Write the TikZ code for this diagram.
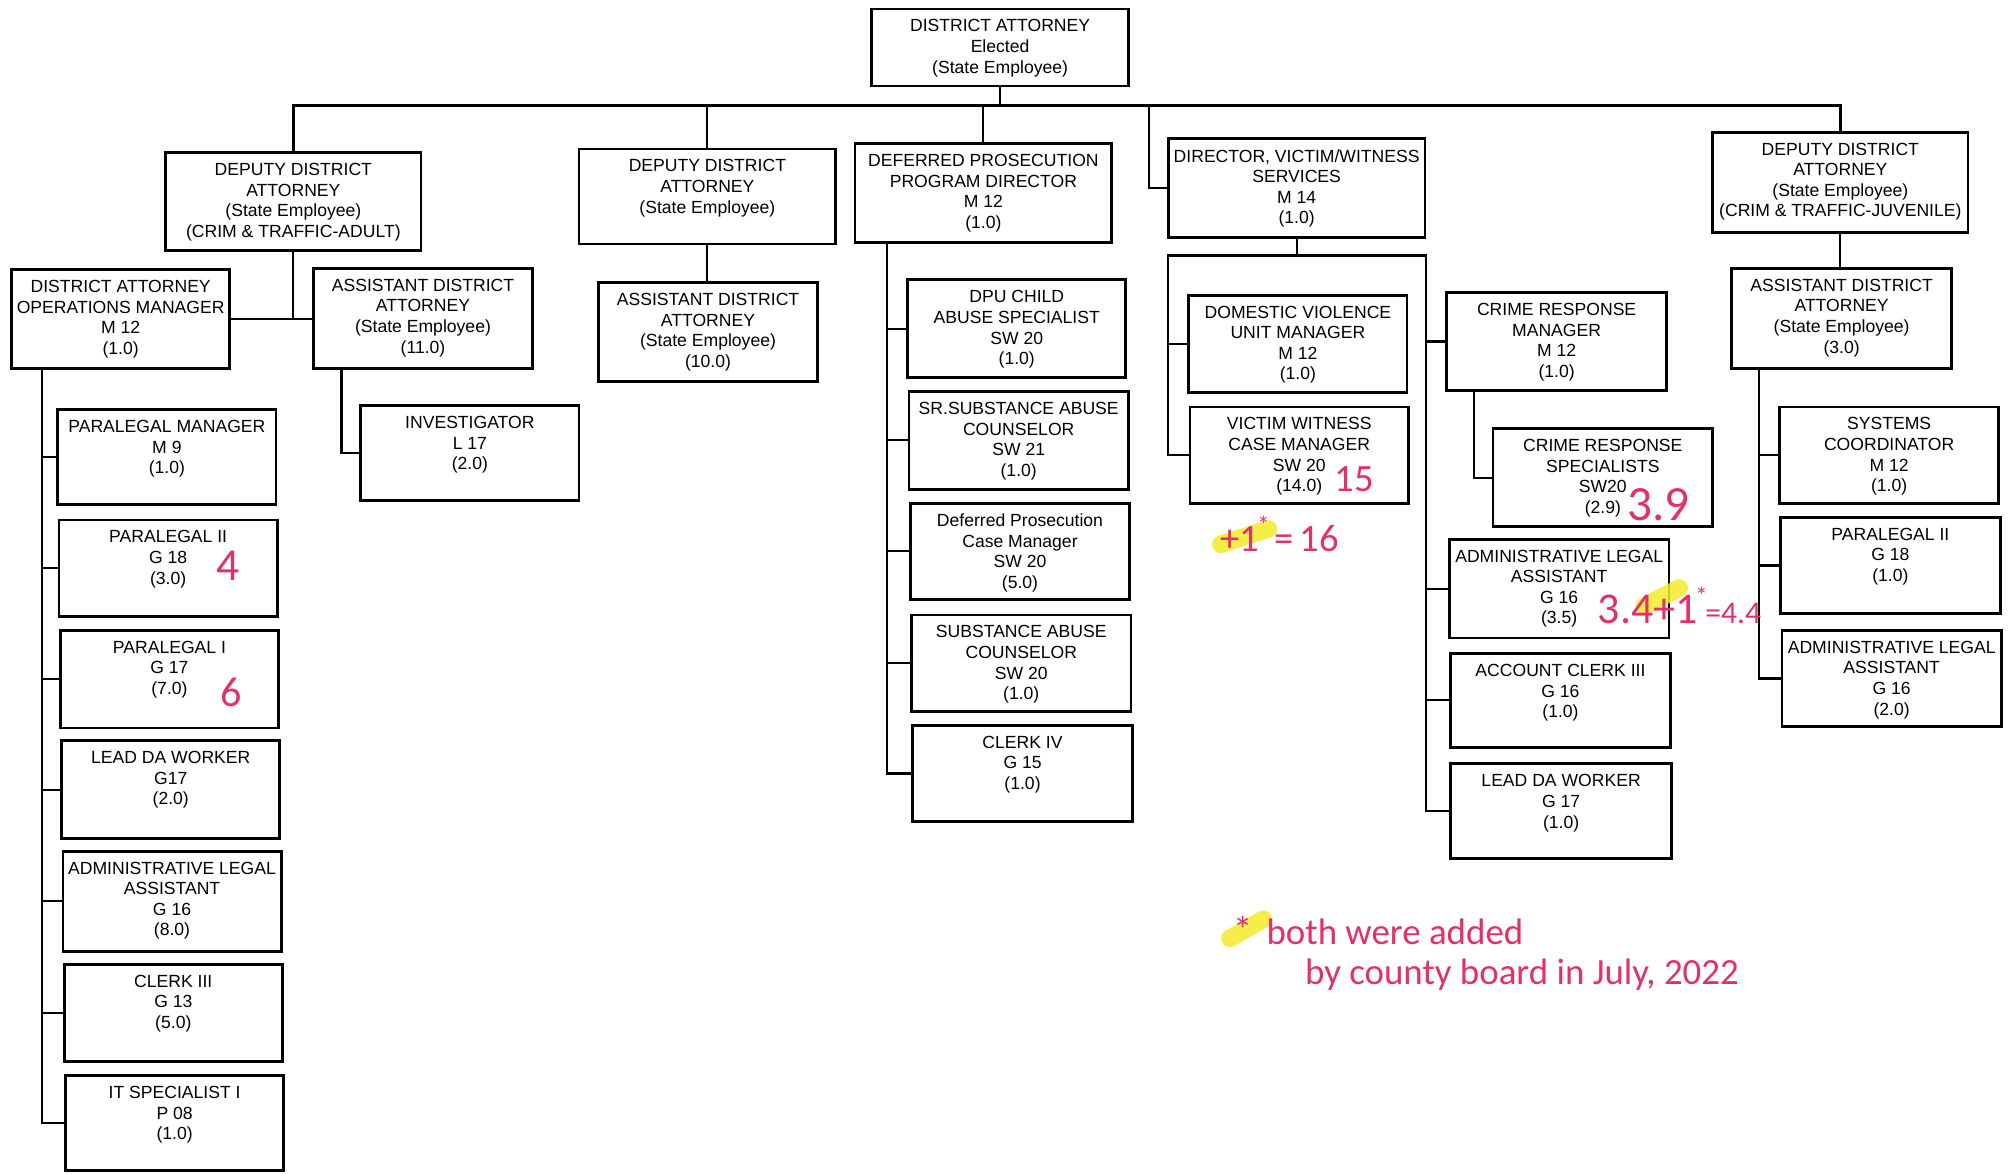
\documentclass[tikz,border=0pt]{standalone}
\usepackage{fontspec}
\setmainfont{Liberation Sans}
\newfontfamily\handfont{Carlito}
\usetikzlibrary{fit,calc}
\definecolor{pen}{HTML}{E2306A}
\definecolor{hilite}{HTML}{F2EA2A}
\tikzset{
  box/.style={draw, line width=0.8pt, inner sep=0pt, outer sep=0pt},
  txt/.style={inner sep=0pt, align=center, font=\fontsize{5}{5.85}\selectfont},
  conn/.style={line width=0.6pt},
  busline/.style={line width=1pt},
  hw/.style={text=pen, inner sep=0pt, font=\handfont},
  hl/.style={hilite, line width=5pt, line cap=round, opacity=0.85},
}
\newcommand\orgbox[6]{%
  \node[box, fit={(#2,#3) (#4,#5)}] (#1) {};
  \node[txt, anchor=north] (#1-t) at ([yshift=-0.1cm]#1.north) {#6};
}
\newcommand\hstar{\kern-0.05em\raisebox{0.45em}{\fontsize{7}{7}\selectfont *}\kern-0.05em}
\begin{document}
\begin{tikzpicture}[x=0.012838cm, y=-0.012838cm]
\useasboundingbox (0,0) rectangle (1568,914);
% top level
\orgbox{da}{679}{7}{879}{67}{DISTRICT ATTORNEY\\Elected\\(State Employee)}
\orgbox{ddaA}{129}{119}{328}{195}{DEPUTY DISTRICT\\ATTORNEY\\(State Employee)\\(CRIM \& TRAFFIC-ADULT)}
\orgbox{ddaM}{451}{116}{651}{190}{DEPUTY DISTRICT\\ATTORNEY\\(State Employee)}
\orgbox{dpd}{666}{112}{866}{189}{DEFERRED PROSECUTION\\PROGRAM DIRECTOR\\M 12\\(1.0)}
\orgbox{dir}{910}{108}{1110}{185}{DIRECTOR, VICTIM/WITNESS\\SERVICES\\M 14\\(1.0)}
\orgbox{ddaJ}{1334}{103}{1533}{181}{DEPUTY DISTRICT\\ATTORNEY\\(State Employee)\\(CRIM \& TRAFFIC-JUVENILE)}
% second level
\orgbox{ops}{9}{210}{179}{287}{DISTRICT ATTORNEY\\OPERATIONS MANAGER\\M 12\\(1.0)}
\orgbox{ada11}{244}{209}{415}{287}{ASSISTANT DISTRICT\\ATTORNEY\\(State Employee)\\(11.0)}
\orgbox{ada10}{466}{220}{637}{297}{ASSISTANT DISTRICT\\ATTORNEY\\(State Employee)\\(10.0)}
\orgbox{adaJ}{1349}{209}{1520}{287}{ASSISTANT DISTRICT\\ATTORNEY\\(State Employee)\\(3.0)}
% left column
\orgbox{pm}{45}{319}{215}{393}{PARALEGAL MANAGER\\M 9\\(1.0)}
\orgbox{p2}{46}{405}{216}{480}{PARALEGAL II\\G 18\\(3.0)}
\orgbox{p1}{47}{491}{217}{567}{PARALEGAL I\\G 17\\(7.0)}
\orgbox{lda}{48}{577}{218}{653}{LEAD DA WORKER\\G17\\(2.0)}
\orgbox{ala}{49}{663}{219}{741}{ADMINISTRATIVE LEGAL\\ASSISTANT\\G 16\\(8.0)}
\orgbox{c3}{50}{751}{220}{827}{CLERK III\\G 13\\(5.0)}
\orgbox{it}{51}{838}{221}{912}{IT SPECIALIST I\\P 08\\(1.0)}
\orgbox{inv}{281}{316}{451}{390}{INVESTIGATOR\\L 17\\(2.0)}
% deferred column
\orgbox{dpu}{707}{218}{877}{294}{DPU CHILD\\ABUSE SPECIALIST\\SW 20\\(1.0)}
\orgbox{sr}{708}{305}{879}{381}{SR.SUBSTANCE ABUSE\\COUNSELOR\\SW 21\\(1.0)}
\orgbox{dpcm}{709}{392}{880}{467}{Deferred Prosecution\\Case Manager\\SW 20\\(5.0)}
\orgbox{sac}{710}{479}{881}{554}{SUBSTANCE ABUSE\\COUNSELOR\\SW 20\\(1.0)}
\orgbox{c4}{711}{565}{882}{640}{CLERK IV\\G 15\\(1.0)}
% victim witness
\orgbox{dv}{926}{230}{1096}{306}{DOMESTIC VIOLENCE\\UNIT MANAGER\\M 12\\(1.0)}
\orgbox{vw}{927}{317}{1097}{392}{VICTIM WITNESS\\CASE MANAGER\\SW 20\\(14.0)}
\orgbox{crm}{1127}{228}{1298}{304}{CRIME RESPONSE\\MANAGER\\M 12\\(1.0)}
\orgbox{crs}{1163}{334}{1334}{410}{CRIME RESPONSE\\SPECIALISTS\\SW20\\(2.9)}
\orgbox{alav}{1129}{420}{1300}{497}{ADMINISTRATIVE LEGAL\\ASSISTANT\\G 16\\(3.5)}
\orgbox{acc}{1130}{509}{1301}{582}{ACCOUNT CLERK III\\G 16\\(1.0)}
\orgbox{lda2}{1130}{595}{1302}{669}{LEAD DA WORKER\\G 17\\(1.0)}
% juvenile column
\orgbox{sys}{1386}{317}{1557}{392}{SYSTEMS\\COORDINATOR\\M 12\\(1.0)}
\orgbox{p2j}{1387}{403}{1558}{478}{PARALEGAL II\\G 18\\(1.0)}
\orgbox{alaj}{1388}{491}{1559}{566}{ADMINISTRATIVE LEGAL\\ASSISTANT\\G 16\\(2.0)}

% ---- connectors ----
\coordinate (bus) at (0,82);
\draw[busline] (ddaA.north) |- (ddaJ.north |- bus) -- (ddaJ.north);
\draw[conn] (da.south) -- (da.south |- bus);
\draw[conn] (ddaM.north) -- (ddaM.north |- bus);
\draw[conn] (dpd.north) -- (dpd.north |- bus);
\coordinate (dirj) at (895,82);
\draw[conn] (dir.west) -| (dirj);
% adult
\draw[conn] (ddaA.south) -- (ddaA.south |- ops.east);
\draw[conn] (ops.east) -- (ops.east -| ada11.west);
\coordinate (tL) at (33,0);
\draw[conn] (ops.south -| tL) -- (it.west -| tL) -- (it.west);
\foreach \n in {pm,p2,p1,lda,ala,c3} \draw[conn] (\n.west -| tL) -- (\n.west);
\coordinate (tI) at (266,0);
\draw[conn] (ada11.south -| tI) |- (inv.west);
% middle
\draw[conn] (ddaM.south) -- (ddaM.south |- ada10.north);
% deferred
\coordinate (tD) at (691,0);
\draw[conn] (dpd.south -| tD) -- (c4.west -| tD) -- (c4.west);
\foreach \n in {dpu,sr,dpcm,sac} \draw[conn] (\n.west -| tD) -- (\n.west);
% victim witness
\coordinate (brk) at (0,199);
\coordinate (tVL) at (910,0);
\coordinate (tVR) at (1111,0);
\draw[conn] (dir.south) -- (dir.south |- brk);
\draw[conn] (vw.west) -| (tVL |- brk) -- (tVR |- brk) -- (lda2.west -| tVR) -- (lda2.west);
\draw[conn] (dv.west -| tVL) -- (dv.west);
\foreach \n in {crm,alav,acc} \draw[conn] (\n.west -| tVR) -- (\n.west);
\coordinate (tC) at (1148,0);
\draw[conn] (crm.south -| tC) |- (crs.west);
% juvenile
\draw[conn] (ddaJ.south) -- (ddaJ.south |- adaJ.north);
\coordinate (tJ) at (1370,0);
\draw[conn] (adaJ.south -| tJ) -- (alaj.west -| tJ) -- (alaj.west);
\foreach \n in {sys,p2j} \draw[conn] (\n.west -| tJ) -- (\n.west);

% ---- handwritten annotations ----
\node[hw, font=\handfont\fontsize{13}{13}\selectfont] (n4) at (178,441) {4};
\node[hw, font=\handfont\fontsize{12}{12}\selectfont] (n6) at (180,539) {6};
\node[hw, font=\handfont\fontsize{11}{11}\selectfont] (n15) at (1055,373) {15};
\draw[hl] (951,424) -- (988,412);
\node[hw, font=\handfont\fontsize{11}{11}\selectfont, anchor=west] (n16) at (950,416) {+1\hstar\,=\,16};
\node[hw, font=\handfont\fontsize{14}{14}\selectfont] (n39) at (1292,393) {3.9};
\draw[hl] (1281,472) -- (1308,458);
\node[hw, anchor=base west] (n44) at (1244,486) {{\fontsize{12.5}{12.5}\selectfont 3.4+1\hstar}{\fontsize{9}{9}\selectfont =4.4}};
\draw[hl] (958,731) -- (984,716);
\node[hw, font=\handfont\fontsize{11}{11}\selectfont] (nst) at (968,724) {*};
\node[hw, font=\handfont\fontsize{10.5}{10.5}\selectfont, anchor=base west] (nb1) at (986,736) {both were added};
\node[hw, font=\handfont\fontsize{10.5}{10.5}\selectfont, anchor=base west] (nb2) at (1016,767) {by county board in July, 2022};
\end{tikzpicture}
\end{document}
